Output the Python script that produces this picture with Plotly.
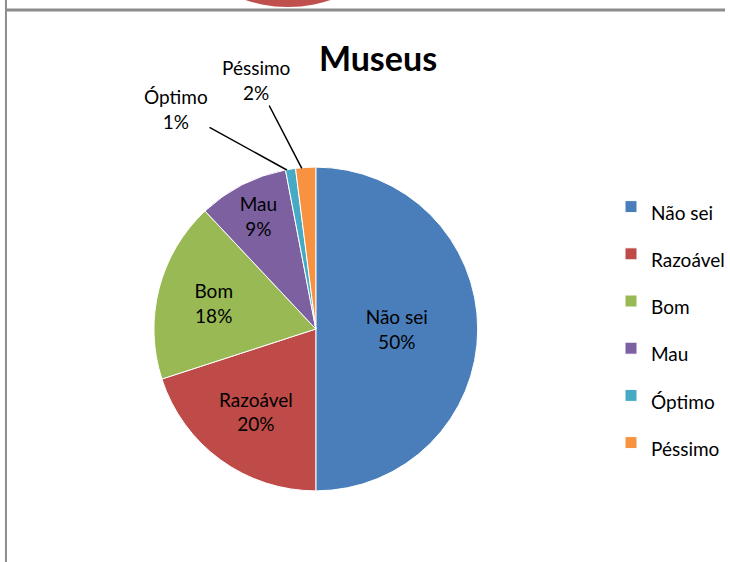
import math
import plotly.graph_objects as go

# ---- data ----
categories = ["Não sei", "Razoável", "Bom", "Mau", "Óptimo", "Péssimo"]
percentages = [50, 20, 18, 9, 1, 2]
colors = ["#4A7EBB", "#BE4B48", "#98B954", "#7D60A0", "#46AAC5", "#F69240"]
title_text = "Museus"
outside_labels = ["Óptimo", "Péssimo"]  # labelled with leader lines

W, H = 730, 562
FONT = "Lato, sans-serif"
TXT = 19

# pie geometry (pixels)
CX, CY, R = 314, 329, 161
DOM_CX, DOM_R = 318, 163
dom_x = [(DOM_CX - DOM_R) / W, (DOM_CX + DOM_R) / W]
dom_y = [(H - CY - DOM_R) / H, (H - CY + DOM_R) / H]

inside_text = [
    "" if c in outside_labels else f"{c}<br>{p}%"
    for c, p in zip(categories, percentages)
]
legend_labels = [f"<span style='font-size:{TXT}px'>{c}</span>" for c in categories]

fig = go.Figure(
    go.Pie(
        labels=legend_labels,
        values=percentages,
        text=inside_text,
        textinfo="text",
        textposition="inside",
        insidetextorientation="horizontal",
        insidetextfont=dict(family=FONT, size=TXT, color="#000000"),
        sort=False,
        direction="clockwise",
        rotation=0,
        marker=dict(colors=colors, line=dict(color="#FFFFFF", width=1)),
        domain=dict(x=dom_x, y=dom_y),
        hovertemplate="%{text}<extra></extra>",
    )
)

# leader-line labels for the small slices (targets computed from the data)
label_pos = {"Óptimo": (178, 109), "Péssimo": (258, 80)}
total = sum(percentages)
cum = 0
for c, p in zip(categories, percentages):
    mid = (cum + p / 2) / total * 2 * math.pi
    cum += p
    if c not in outside_labels:
        continue
    tx = CX + R * math.sin(mid)
    ty = CY - R * math.cos(mid)
    lx, ly = label_pos[c]
    fig.add_annotation(
        x=tx / W, y=1 - ty / H, xref="paper", yref="paper",
        text=f"{c}<br>{p}%",
        showarrow=True, arrowhead=0, arrowwidth=1.5, arrowcolor="#000000",
        ax=lx - tx, ay=ly - ty,
        font=dict(family=FONT, size=TXT, color="#000000"),
    )

# frame pieces visible in the screenshot
fig.add_shape(type="line", xref="paper", yref="paper",
              x0=6 / W, x1=1, y0=1 - 10 / H, y1=1 - 10 / H,
              line=dict(color="#8C8C8C", width=3))
fig.add_shape(type="line", xref="paper", yref="paper",
              x0=6 / W, x1=6 / W, y0=0, y1=1,
              line=dict(color="#8C8C8C", width=2))
fig.add_shape(type="circle", xref="paper", yref="paper",
              x0=155 / W, x1=425 / W, y0=1 - 7 / H, y1=1 + 263 / H,
              fillcolor="#C0504D", line=dict(width=0))

fig.update_layout(
    width=W, height=H,
    margin=dict(l=0, r=0, t=0, b=0),
    paper_bgcolor="#FFFFFF", plot_bgcolor="#FFFFFF",
    title=dict(text=f"<b>{title_text}</b>", x=378 / W, xanchor="center",
               y=1 - 59 / H, yanchor="middle",
               font=dict(family=FONT, size=34, color="#000000")),
    legend=dict(x=0.843, xanchor="left", y=1 - 325 / H, yanchor="middle",
                font=dict(family=FONT, size=34, color="#000000"),
                bgcolor="rgba(0,0,0,0)"),
    showlegend=True,
)

fig.write_html("out.html", config={"displayModeBar": False},
               post_script="document.body.style.margin='0';")
